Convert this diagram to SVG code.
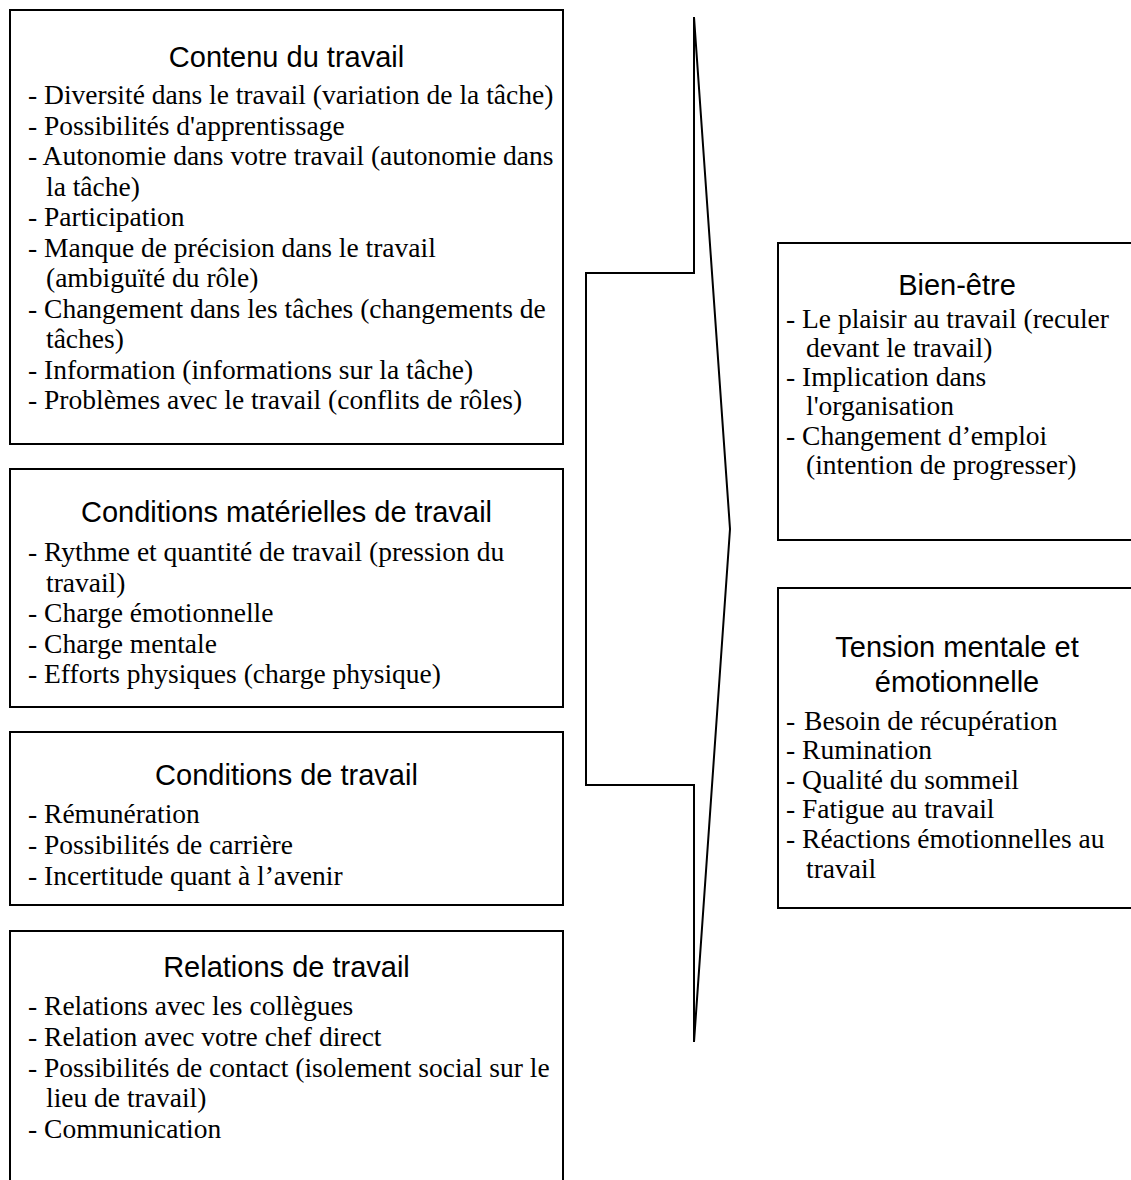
<svg xmlns="http://www.w3.org/2000/svg" width="1131" height="1180" viewBox="0 0 1131 1180">
<style>
.box{fill:#fff;stroke:#000;stroke-width:2}
.t{font-family:"Liberation Sans",Arial,sans-serif;font-size:29px;fill:#000;text-anchor:middle}
.b{font-family:"Liberation Serif","Times New Roman",serif;font-size:27.5px;fill:#000}
.arrow{fill:none;stroke:#000;stroke-width:2;stroke-linejoin:miter}
</style>
<rect width="1131" height="1180" fill="#fff"/>
<g id="connectors">
<path class="arrow" d="M694,17 L694,273 L586,273 L586,785 L694,785 L694,1042 L730,529 Z"/>
</g>
<g id="contenu">
<rect class="box" x="10" y="10" width="553" height="434"/>
<text class="t" x="286.5" y="67">Contenu du travail</text>
<text class="b" x="28" y="104">- Diversité dans le travail (variation de la tâche)</text>
<text class="b" x="28" y="134.5">- Possibilités d'apprentissage</text>
<text class="b" x="28" y="165">- Autonomie dans votre travail (autonomie dans</text>
<text class="b" x="46" y="195.5">la tâche)</text>
<text class="b" x="28" y="226">- Participation</text>
<text class="b" x="28" y="256.5">- Manque de précision dans le travail</text>
<text class="b" x="46" y="287">(ambiguïté du rôle)</text>
<text class="b" x="28" y="317.5">- Changement dans les tâches (changements de</text>
<text class="b" x="46" y="348">tâches)</text>
<text class="b" x="28" y="378.5">- Information (informations sur la tâche)</text>
<text class="b" x="28" y="409">- Problèmes avec le travail (conflits de rôles)</text>
</g>
<g id="materielles">
<rect class="box" x="10" y="469" width="553" height="238"/>
<text class="t" x="286.5" y="522">Conditions matérielles de travail</text>
<text class="b" x="28" y="561">- Rythme et quantité de travail (pression du</text>
<text class="b" x="46" y="591.5">travail)</text>
<text class="b" x="28" y="622">- Charge émotionnelle</text>
<text class="b" x="28" y="652.5">- Charge mentale</text>
<text class="b" x="28" y="683">- Efforts physiques (charge physique)</text>
</g>
<g id="conditions">
<rect class="box" x="10" y="732" width="553" height="173"/>
<text class="t" x="286.5" y="785">Conditions de travail</text>
<text class="b" x="28" y="823">- Rémunération</text>
<text class="b" x="28" y="854">- Possibilités de carrière</text>
<text class="b" x="28" y="885">- Incertitude quant à l’avenir</text>
</g>
<g id="relations">
<rect class="box" x="10" y="931" width="553" height="260"/>
<text class="t" x="286.5" y="977">Relations de travail</text>
<text class="b" x="28" y="1015">- Relations avec les collègues</text>
<text class="b" x="28" y="1046">- Relation avec votre chef direct</text>
<text class="b" x="28" y="1077">- Possibilités de contact (isolement social sur le</text>
<text class="b" x="46" y="1107">lieu de travail)</text>
<text class="b" x="28" y="1138">- Communication</text>
</g>
<g id="bienetre">
<rect class="box" x="778" y="243" width="360" height="297"/>
<text class="t" x="957" y="295">Bien-être</text>
<text class="b" x="786" y="328">- Le plaisir au travail (reculer</text>
<text class="b" x="806" y="357">devant le travail)</text>
<text class="b" x="786" y="386">- Implication dans</text>
<text class="b" x="806" y="415">l'organisation</text>
<text class="b" x="786" y="445">- Changement d’emploi</text>
<text class="b" x="806" y="474">(intention de progresser)</text>
</g>
<g id="tension">
<rect class="box" x="778" y="588" width="360" height="320"/>
<text class="t" x="957" y="657">Tension mentale et</text>
<text class="t" x="957" y="692">émotionnelle</text>
<text class="b" x="786" y="730">- <tspan dx="2">Besoin de récupération</tspan></text>
<text class="b" x="786" y="759">- Rumination</text>
<text class="b" x="786" y="789">- Qualité du sommeil</text>
<text class="b" x="786" y="818">- Fatigue au travail</text>
<text class="b" x="786" y="848">- Réactions émotionnelles au</text>
<text class="b" x="806" y="878">travail</text>
</g>
</svg>
